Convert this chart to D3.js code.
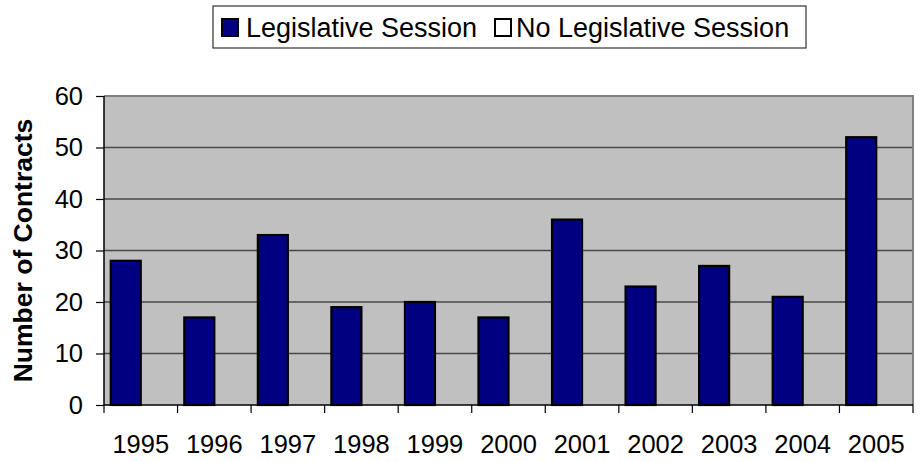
<!DOCTYPE html>
<html>
<head>
<meta charset="utf-8">
<script src="https://cdn.jsdelivr.net/npm/d3@7/dist/d3.min.js"></script>
<style>
  html, body { margin: 0; padding: 0; background: #fff; }
  svg { display: block; }
  text { font-family: "Liberation Sans", Arial, sans-serif; fill: #000; }
</style>
</head>
<body>
<svg id="chart" width="920" height="462"></svg>
<script>
const years = ["1995","1996","1997","1998","1999","2000","2001","2002","2003","2004","2005"];
const seriesNames = ["Legislative Session", "No Legislative Session"];
const legislative = [28, 17, 33, 19, 20, 17, 36, 23, 27, 21, 52];
const noLegislative = [0, 0, 0, 0, 0, 0, 0, 0, 0, 0, 0];
const yTicks = [0, 10, 20, 30, 40, 50, 60];
const yTitle = "Number of Contracts";

const svg = d3.select("#chart");
const plot = { left: 104, right: 913, top: 96, bottom: 405 };

const x = d3.scaleBand().domain(years).range([plot.left, plot.right]).padding(0);
const xs = d3.scaleBand().domain([0, 1]).range([0, x.bandwidth()]).paddingInner(0).paddingOuter(0.225);
const y = d3.scaleLinear().domain([0, 60]).range([plot.bottom, plot.top]);

// plot background
svg.append("rect")
  .attr("x", plot.left).attr("y", plot.top)
  .attr("width", plot.right - plot.left).attr("height", plot.bottom - plot.top)
  .attr("fill", "#C0C0C0");

// gridlines
svg.append("g").selectAll("line").data(yTicks.filter(t => t > 0 && t < 60)).join("line")
  .attr("x1", plot.left).attr("x2", plot.right)
  .attr("y1", d => y(d)).attr("y2", d => y(d))
  .attr("stroke", "#484848").attr("stroke-width", 1.3);

// top and right border
svg.append("path")
  .attr("d", `M${plot.left},${plot.top}H${plot.right}V${plot.bottom}`)
  .attr("fill", "none").attr("stroke", "#808080").attr("stroke-width", 2);

// bars
const series = [legislative, noLegislative];
const fills = ["#000080", "#FFFFFF"];
series.forEach((vals, si) => {
  svg.append("g").selectAll("rect").data(years.filter((_, i) => vals[i] > 0)).join("rect")
    .attr("x", d => x(d) + xs(si))
    .attr("width", xs.bandwidth())
    .attr("y", d => y(vals[years.indexOf(d)]))
    .attr("height", d => y(0) - y(vals[years.indexOf(d)]))
    .attr("fill", fills[si])
    .attr("stroke", "#000").attr("stroke-width", 2.2);
});

// y axis
const yAxis = d3.axisLeft(y).tickValues(yTicks).tickSize(8).tickPadding(13).tickFormat(d3.format("d"));
const gy = svg.append("g").attr("transform", `translate(${plot.left},0)`).call(yAxis);
gy.select(".domain").remove();
gy.append("line").attr("x1", 0).attr("x2", 0).attr("y1", plot.top).attr("y2", plot.bottom)
  .attr("stroke", "#000").attr("stroke-width", 1.5);
gy.selectAll(".tick line").attr("stroke", "#000").attr("stroke-width", 1.2);
gy.selectAll(".tick text").attr("font-size", 25.5).attr("fill", "#000");

// x axis
const gx = svg.append("g").attr("transform", `translate(0,${plot.bottom})`);
gx.append("line").attr("x1", plot.left).attr("x2", plot.right).attr("y1", 0).attr("y2", 0)
  .attr("stroke", "#000").attr("stroke-width", 1.5);
const boundaries = years.map(d => x(d)).concat([x(years[years.length - 1]) + x.bandwidth()]);
gx.selectAll("line.tk").data(boundaries).join("line").attr("class", "tk")
  .attr("x1", d => d).attr("x2", d => d).attr("y1", 0).attr("y2", 8)
  .attr("stroke", "#000").attr("stroke-width", 1.2);
gx.selectAll("text").data(years).join("text")
  .attr("x", d => x(d) + x.bandwidth() / 2)
  .attr("y", 48)
  .attr("text-anchor", "middle")
  .attr("font-size", 25.5)
  .text(d => d);

// y title
svg.append("text")
  .attr("transform", `translate(32,${(plot.top + plot.bottom) / 2}) rotate(-90)`)
  .attr("text-anchor", "middle")
  .attr("font-size", 26.5).attr("font-weight", "bold")
  .text(yTitle);

// legend
const lg = svg.append("g");
lg.append("rect").attr("x", 213).attr("y", 6).attr("width", 593).attr("height", 42)
  .attr("fill", "#fff").attr("stroke", "#333").attr("stroke-width", 1.2);
const legendItems = [
  { name: seriesNames[0], fill: fills[0], sx: 222, tx: 246 },
  { name: seriesNames[1], fill: fills[1], sx: 495, tx: 516 }
];
legendItems.forEach(it => {
  lg.append("rect").attr("x", it.sx).attr("y", 19).attr("width", 16).attr("height", 17)
    .attr("fill", it.fill).attr("stroke", "#000").attr("stroke-width", 2);
  lg.append("text").attr("x", it.tx).attr("y", 37).attr("font-size", 27).text(it.name);
});
</script>
</body>
</html>
